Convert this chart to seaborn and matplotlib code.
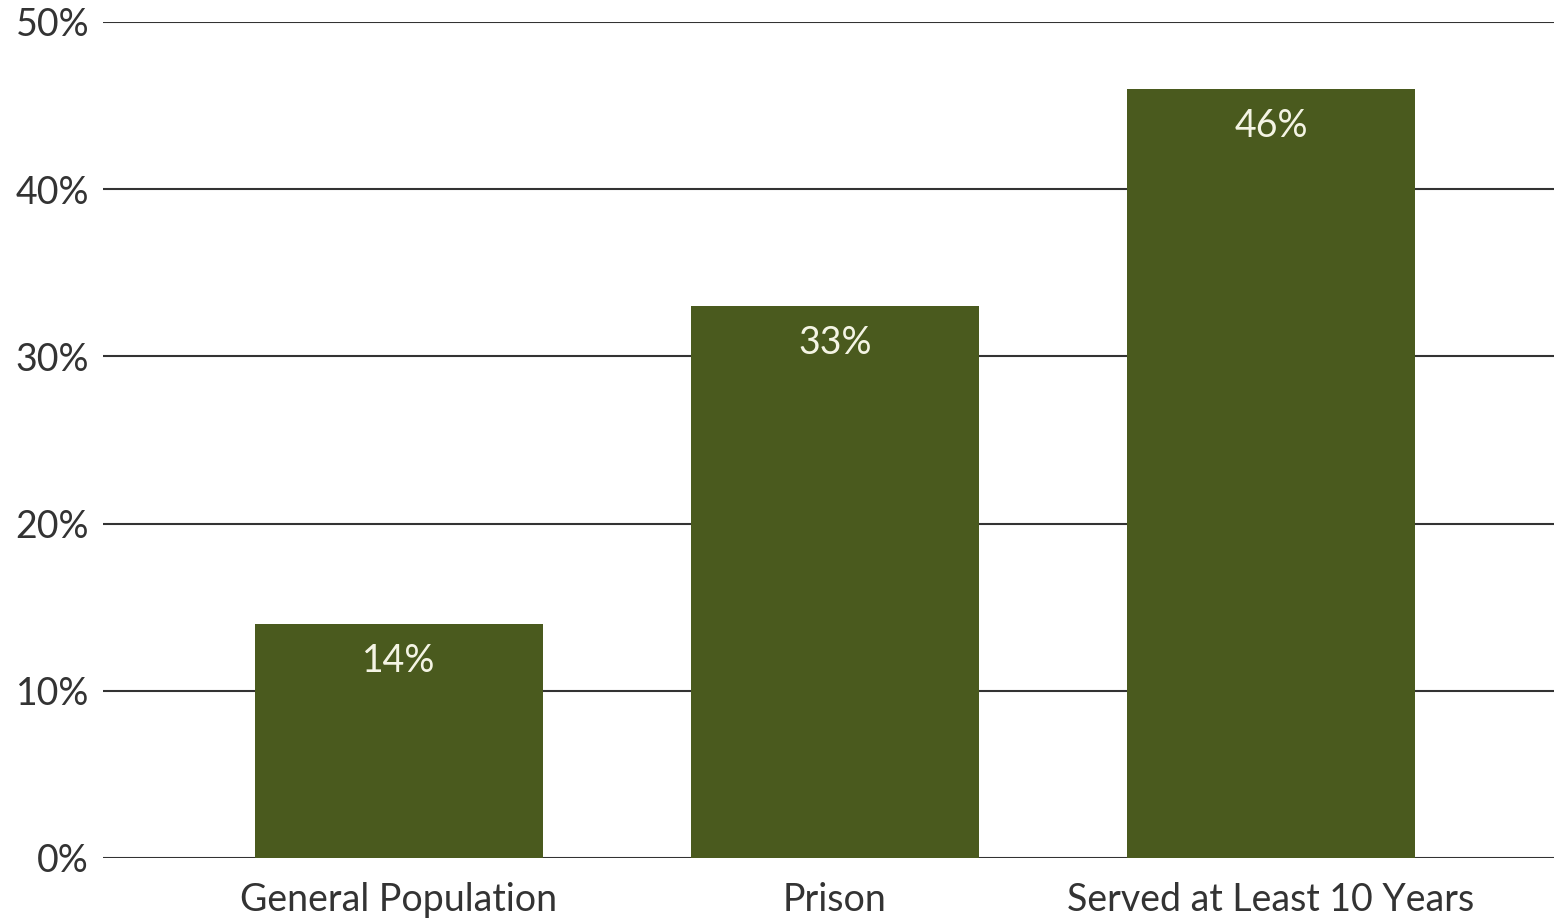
import matplotlib
matplotlib.use("Agg")
import matplotlib.pyplot as plt
import seaborn as sns
import pandas as pd

categories = ["General Population", "Prison", "Served at Least 10 Years"]
values = [14, 33, 46]
value_labels = ["14%", "33%", "46%"]
yticks = [0, 10, 20, 30, 40, 50]
ytick_labels = ["0%", "10%", "20%", "30%", "40%", "50%"]

sns.set_theme(style="white")
plt.rcParams['font.family'] = ['Lato', 'DejaVu Sans']

df = pd.DataFrame({"category": categories, "value": values})

fig = plt.figure(figsize=(15.54, 9.18), dpi=100)
ax = fig.add_axes([103/1554, 60/918, 1 - 103/1554, (858-22)/918])

sns.barplot(data=df, x="category", y="value", color="#4a5a1e", saturation=1,
            width=0.66, linewidth=0, ax=ax, zorder=3)

ax.set_ylim(0, 50)
ax.set_xlim(-0.679, 2.649)
ax.set_yticks(yticks)
ax.set_yticklabels(ytick_labels)
for y in yticks:
    ax.axhline(y, color="#333333", lw=1.5, zorder=1)

for s in ax.spines.values():
    s.set_visible(False)
ax.set_xlabel("")
ax.set_ylabel("")
ax.tick_params(axis="y", length=0, pad=10, labelsize=27, labelcolor="#333333")
ax.tick_params(axis="x", length=0, pad=17, labelsize=27, labelcolor="#333333")

for i, (v, lab) in enumerate(zip(values, value_labels)):
    ax.text(i, v - 2.2, lab, ha="center", va="center", color="#f4f4e4",
            fontsize=27, zorder=4)

fig.savefig("out.png", dpi=100)
